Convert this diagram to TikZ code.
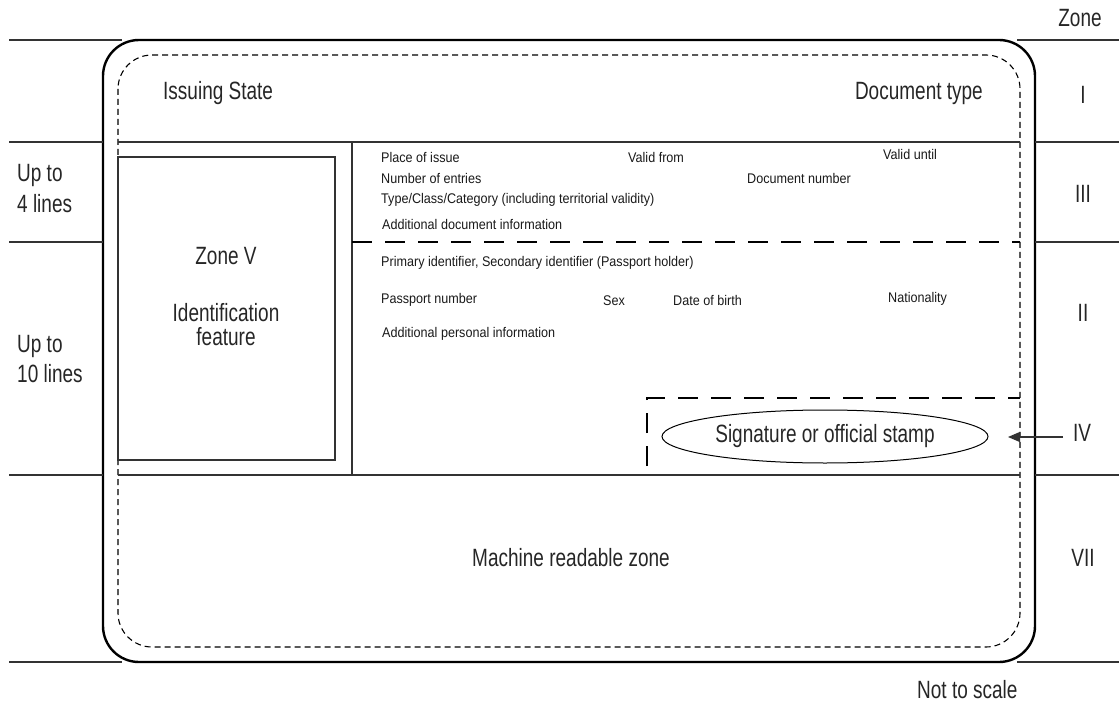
\documentclass[tikz,border=0pt]{standalone}
\usepackage{fontspec}
\setmainfont{Liberation Sans}
\newfontfamily\narrowfont{Liberation Sans}[FakeStretch=0.76]
\newfontfamily\smallfont{Liberation Sans}[FakeStretch=0.9]
\usetikzlibrary{positioning}
\usetikzlibrary{arrows.meta}
\usetikzlibrary{shapes.geometric}

\begin{document}
\begin{tikzpicture}[x=1pt,y=-1pt,
            big/.style={font=\narrowfont\fontsize{25}{30}\selectfont,text=black!85,inner sep=0pt},
            small/.style={font=\smallfont\fontsize{14}{16}\selectfont,text=black!90,inner sep=0pt,anchor=base west},
            hline/.style={black!80,line width=1.1pt},
            bigdash/.style={line width=2.4pt,dash pattern=on 20pt off 13pt}]
            \useasboundingbox (0,0) rectangle (1119,706);

            \draw[line width=2.4pt,rounded corners=36pt] (103,40) rectangle (1035,662);
            \draw[line width=1.1pt,dash pattern=on 6pt off 4pt,rounded corners=34pt] (118,55) rectangle (1020,647);

            \foreach \y in {142,242,475}{
                \draw[hline] (9,\y) -- (103,\y);
                \draw[hline] (1035,\y) -- (1119,\y);
            }
            \draw[hline] (9,40) -- (122,40);
            \draw[hline] (9,662) -- (122,662);
            \draw[hline] (1017,40) -- (1119,40);
            \draw[hline] (1017,662) -- (1119,662);

            \draw[hline] (118,142) -- (1020,142);
            \draw[hline] (118,475) -- (1020,475);
            \draw[hline] (352,142) -- (352,475);
            \draw[hline] (118,157) rectangle (335,460);
            \draw[bigdash] (352,242) -- (1020,242);
            \draw[bigdash] (647,466) -- (647,398) -- (1020,398);

            \node[big,anchor=base] (Z) at (1080,27) {Zone};
            \node[big,anchor=base west] (A) at (163,100) {Issuing State};
            \node[big,anchor=base east] (B) at (983,100) {Document type};
            \node[big,anchor=base] (R1) at (1083,104) {I};
            \node[big,anchor=base] (R3) at (1083,202) {III};
            \node[big,anchor=base] (R2) at (1083,321) {II};
            \node[big,anchor=base] (R4) at (1082,441) {IV};
            \node[big,anchor=base] (R7) at (1083,566) {VII};

            \node[big,anchor=base west] (U1) at (17,182) {Up to};
            \node[big,anchor=base west] (U2) at (17,212) {4 lines};
            \node[big,anchor=base west] (U3) at (17,352) {Up to};
            \node[big,anchor=base west] (U4) at (17,382) {10 lines};

            \node[big,anchor=base] (V) at (226,264) {Zone V};
            \node[big,anchor=base] (W1) at (226,321) {Identification};
            \node[big,anchor=base] (W2) at (226,345) {feature};

            \node[small] (D) at (381,162) {Place of issue};
            \node[small] (E) at (628,162) {Valid from};
            \node[small] (F) at (883,160) {Valid until};
            \node[small] (G) at (381,183) {Number of entries};
            \node[small] (H) at (747,183) {Document number};
            \node[small] (I) at (381,203) {Type/Class/Category (including territorial validity)};
            \node[small] (J) at (382,229) {Additional document information};
            \node[small] (K) at (381,266) {Primary identifier, Secondary identifier (Passport holder)};
            \node[small] (L) at (381,303) {Passport number};
            \node[small] (M) at (603,305) {Sex};
            \node[small] (N) at (673,305) {Date of birth};
            \node[small] (O) at (888,302) {Nationality};
            \node[small] (P) at (382,337) {Additional personal information};

            \node[big,draw,ellipse,line width=1pt,minimum width=326pt,minimum height=53pt] (S) at (825,436.5) {Signature or official stamp};
            \coordinate (T) at (1008,437);
            \coordinate (Q) at (1063,437);
            \draw[hline,-{Triangle[length=12pt,width=10pt]}] (Q) -- (T);

            \node[big,anchor=base] (X) at (571,566) {Machine readable zone};
            \node[big,anchor=base west] (Y) at (917,698) {Not to scale};
          \end{tikzpicture}
\end{document}
